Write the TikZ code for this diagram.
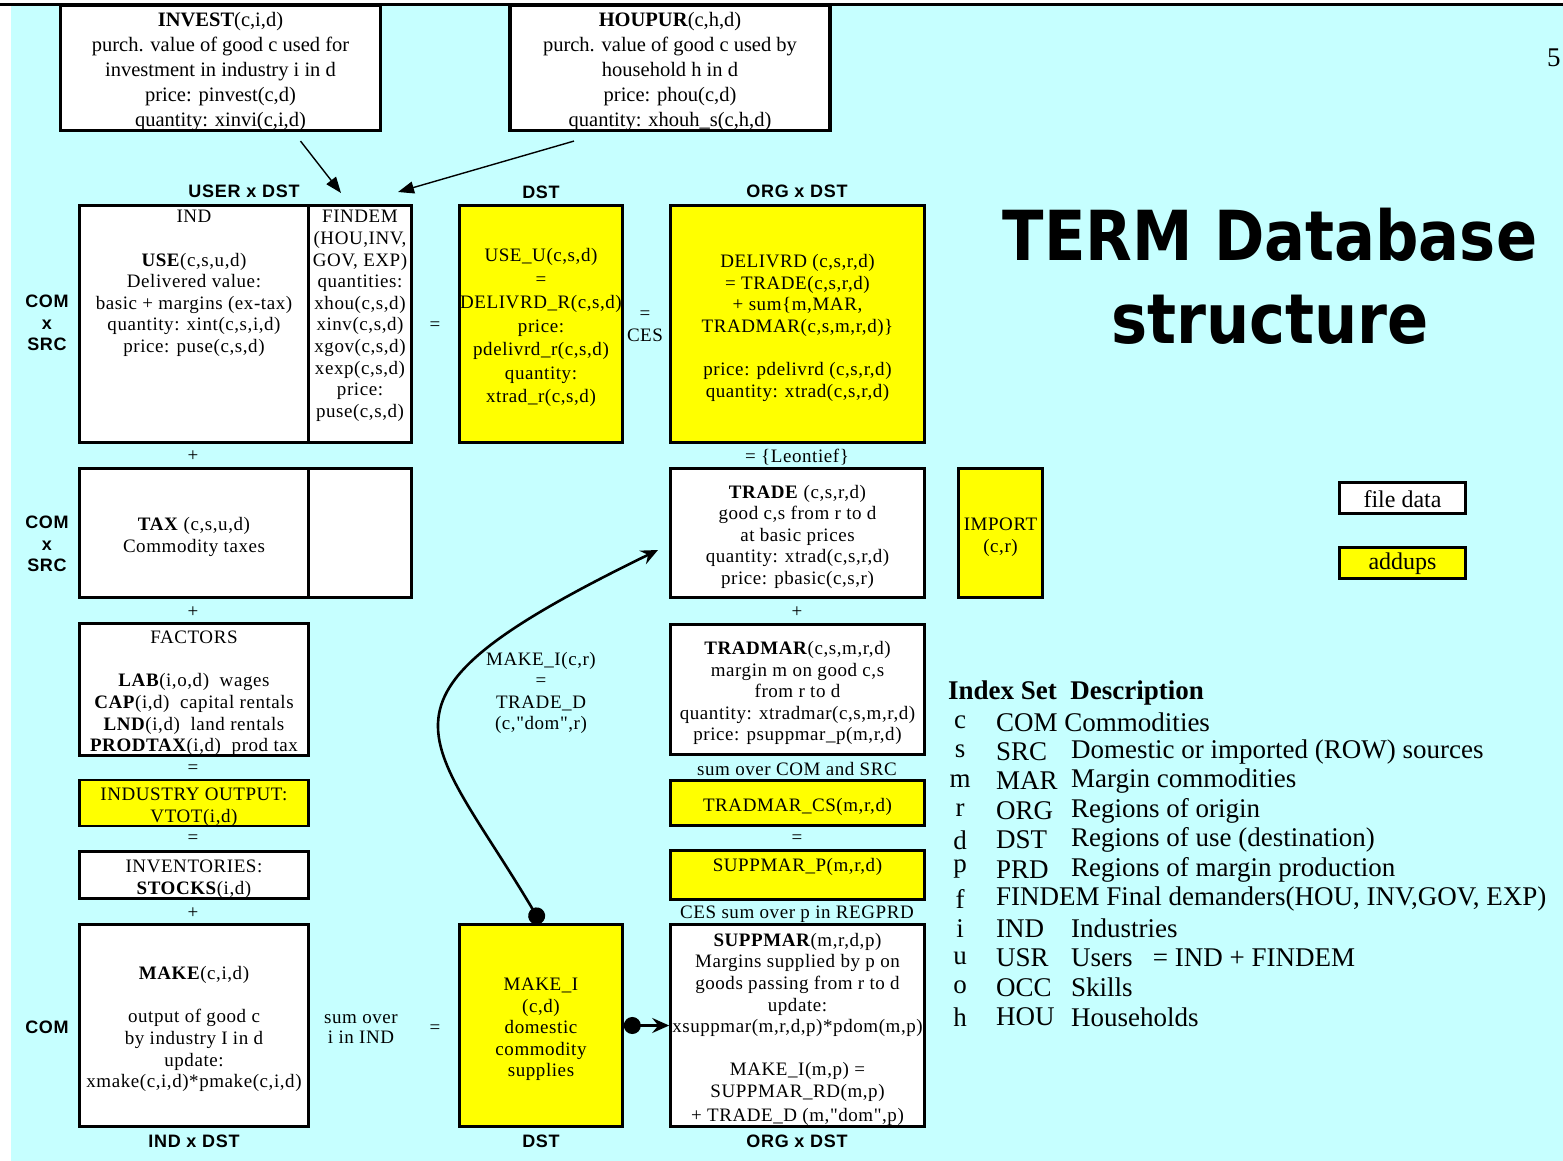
\documentclass[tikz,border=0pt]{standalone}
\usepackage{fontspec}
\setmainfont{Liberation Serif}
\newfontfamily\cellserif[LetterSpace=3]{Liberation Serif}
\newfontfamily\axissans[LetterSpace=4]{Liberation Sans}
\newfontfamily\headsans{DejaVu Sans}
\usepackage{graphicx}
\usepackage{tikz}
\usetikzlibrary{arrows.meta,positioning}
\definecolor{sky}{HTML}{C6FFFF}
\definecolor{addup}{HTML}{FFFF00}
\newcommand\boxstrut{\rule{0pt}{20.5pt}}

\begin{document}
\begin{tikzpicture}[x=1pt,y=-1pt,
    cellbox/.style={draw,line width=2.6pt,fill=white,inner sep=0pt,align=center,font=\cellserif\fontsize{19}{21.6}\selectfont},
    sumbox/.style={cellbox,fill=addup},
    topbox/.style={cellbox,line width=3.2pt,font=\fontsize{20.5}{25}\selectfont},
    celltext/.style={align=center,inner sep=0pt,font=\cellserif\fontsize{19}{21.6}\selectfont},
    axislabel/.style={align=center,inner sep=0pt,font=\axissans\bfseries\fontsize{18}{21.5}\selectfont},
    indexrow/.style={anchor=west,inner sep=0pt,font=\fontsize{27}{29.5}\selectfont},
    feedarrow/.style={line width=1.4pt,-{Triangle[length=16pt,width=12pt]}},
    linkarrow/.style={line width=2.6pt,{Circle[length=17pt]}-{Stealth[length=17pt,width=15pt,inset=6pt]}}]
  \useasboundingbox (0,0) rectangle (1563,1161);
  \fill[white] (0,0) rectangle (1563,1161);
  \fill[sky] (11,6) rectangle (1563,1161);
  \draw[line width=3pt] (0,5) -- (1563,5);
  \node[inner sep=0pt,anchor=west,font=\fontsize{27}{30}\selectfont] (page) at (1547,58) {5};

  % purchaser boxes on top
  \node[topbox,minimum width=320pt,minimum height=121pt] (invest) at (220.5,68) {\boxstrut\textbf{INVEST}(c,i,d)\\purch. value of good c used for\\investment in industry i in d\\price: pinvest(c,d)\\quantity: xinvi(c,i,d)};
  \node[topbox,minimum width=320pt,minimum height=121pt] (houpur) at (670,68) {\boxstrut\textbf{HOUPUR}(c,h,d)\\purch. value of good c used by\\household h in d\\price: phou(c,d)\\quantity: xhouh\_s(c,h,d)};
  \coordinate (usetip) at (341,193);
  \coordinate (fdtip) at (398,192);
  \draw[feedarrow] ([xshift=80pt,yshift=-9pt]invest.south) -- (usetip);
  \draw[feedarrow] ([xshift=-96pt,yshift=-9pt]houpur.south) -- (fdtip);

  % column headers
  \node[axislabel] (hduser) at (244,191) {USER x DST};
  \node[axislabel] (hddst) at (541,192) {DST};
  \node[axislabel] (hdorg) at (797,191) {ORG x DST};

  % first row
  \node[axislabel] (rowa) at (47,323) {COM\\x\\SRC};
  \node[cellbox,minimum width=229pt,minimum height=237pt] (use) at (194,324) {};
  \node[cellbox,minimum width=103pt,minimum height=237pt] (findem) at (360,324) {};
  \node[celltext,below=6pt of use.north] (usetext) {IND\\[21.6pt]\textbf{USE}(c,s,u,d)\\Delivered value:\\basic + margins (ex-tax)\\quantity: xint(c,s,i,d)\\price: puse(c,s,d)};
  \node[celltext,below=6pt of findem.north] (findemtext) {FINDEM\\(HOU,INV,\\GOV, EXP)\\quantities:\\xhou(c,s,d)\\xinv(c,s,d)\\xgov(c,s,d)\\xexp(c,s,d)\\price:\\puse(c,s,d)};
  \node[celltext] (eqa) at (435,326) {=};
  \node[sumbox,minimum width=163pt,minimum height=237pt,font=\cellserif\fontsize{19}{23.5}\selectfont] (useu) at (541,324) {\boxstrut USE\_U(c,s,d)\\=\\DELIVRD\_R(c,s,d)\\price:\\pdelivrd\_r(c,s,d)\\quantity:\\xtrad\_r(c,s,d)};
  \node[celltext] (ces) at (645,326) {=\\CES};
  \node[sumbox,minimum width=254pt,minimum height=237pt] (delivrd) at (797.5,324) {\boxstrut DELIVRD (c,s,r,d)\\= TRADE(c,s,r,d)\\+ sum\{m,MAR,\\TRADMAR(c,s,m,r,d)\}\\[21.6pt]price: pdelivrd (c,s,r,d)\\quantity: xtrad(c,s,r,d)};
  \node[celltext] (plusa) at (193,456) {+};
  \node[celltext] (leontief) at (797,457) {= \{Leontief\}};

  % second row
  \node[axislabel] (rowb) at (47,544) {COM\\x\\SRC};
  \node[cellbox,minimum width=229pt,minimum height=129pt] (tax) at (194,533) {\boxstrut\textbf{TAX} (c,s,u,d)\\Commodity taxes};
  \node[cellbox,minimum width=103pt,minimum height=129pt] (taxfd) at (360,533) {};
  \node[cellbox,minimum width=254pt,minimum height=129pt] (trade) at (797.5,533) {\boxstrut\textbf{TRADE} (c,s,r,d)\\good c,s from r to d\\at basic prices\\quantity: xtrad(c,s,r,d)\\price: pbasic(c,s,r)};
  \node[sumbox,minimum width=84pt,minimum height=129pt] (import) at (1000.5,533) {\boxstrut IMPORT\\(c,r)};
  \node[celltext] (plusb) at (193,612) {+};
  \node[celltext] (plusc) at (797,612) {+};

  % third row
  \node[cellbox,minimum width=229pt,minimum height=130pt] (factors) at (194,689.5) {\boxstrut FACTORS\\[21.6pt]\textbf{LAB}(i,o,d)\ \ wages\\\textbf{CAP}(i,d)\ \ capital rentals\\\textbf{LND}(i,d)\ \ land rentals\\\textbf{PRODTAX}(i,d)\ \ prod tax};
  \node[cellbox,minimum width=254pt,minimum height=130pt] (tradmar) at (797.5,689.5) {\boxstrut\textbf{TRADMAR}(c,s,m,r,d)\\margin m on good c,s\\from r to d\\quantity: xtradmar(c,s,m,r,d)\\price: psuppmar\_p(m,r,d)};
  \node[celltext] (eqb) at (193,769) {=};
  \node[celltext] (sumcs) at (797,769) {sum over COM and SRC};
  \node[sumbox,minimum width=229pt,minimum height=45pt] (vtot) at (194,803) {\boxstrut INDUSTRY OUTPUT:\\VTOT(i,d)};
  \node[sumbox,minimum width=254pt,minimum height=45pt] (tradmarcs) at (797.5,803) {\boxstrut TRADMAR\_CS(m,r,d)};
  \node[celltext] (eqc) at (193,839) {=};
  \node[celltext] (eqd) at (797,839) {=};
  \node[cellbox,minimum width=229pt,minimum height=47pt] (stocks) at (194,875) {\boxstrut INVENTORIES:\\\textbf{STOCKS}(i,d)};
  \node[sumbox,minimum width=254pt,minimum height=47pt] (suppmarp) at (797.5,875) {\boxstrut SUPPMAR\_P(m,r,d)\\\strut};
  \node[celltext] (plusd) at (193,913) {+};
  \node[celltext] (cessum) at (797,914) {CES sum over p in REGPRD};

  % bottom row
  \node[axislabel] (rowc) at (47,1027) {COM};
  \node[cellbox,minimum width=229pt,minimum height=202pt] (make) at (194,1025.5) {\boxstrut\textbf{MAKE}(c,i,d)\\[21.6pt]output of good c\\by industry I in d\\update:\\xmake(c,i,d)*pmake(c,i,d)};
  \node[celltext,font=\cellserif\fontsize{19}{20}\selectfont] (sumind) at (361,1029) {sum over\\i in IND};
  \node[celltext] (eqe) at (435,1029) {=};
  \node[sumbox,minimum width=163pt,minimum height=202pt] (makei) at (541,1025.5) {\boxstrut MAKE\_I\\(c,d)\\domestic\\commodity\\supplies};
  \node[cellbox,minimum width=254pt,minimum height=202pt] (suppmar) at (797.5,1025.5) {\boxstrut\textbf{SUPPMAR}(m,r,d,p)\\Margins supplied by p on\\goods passing from r to d\\update:\\xsuppmar(m,r,d,p)*pdom(m,p)\\[21.6pt]MAKE\_I(m,p) =\\SUPPMAR\_RD(m,p)\\[2pt]+ TRADE\_D (m,"dom",p)};
  \node[axislabel] (ftind) at (194,1141) {IND x DST};
  \node[axislabel] (ftdst) at (541,1141) {DST};
  \node[axislabel] (ftorg) at (797,1141) {ORG x DST};

  % domestic supplies feed trade and margins
  \coordinate (tradetip) at (658,550);
  \draw[linkarrow] (makei.north) .. controls (425,728) and (350,700) .. (tradetip);
  \node[celltext] (makelbl) at (541,693) {MAKE\_I(c,r)\\=\\TRADE\_D\\(c,"dom",r)};
  \draw[linkarrow] (makei.east) -- (suppmar.west);

  % title and key
  \node[inner sep=0pt,align=center,font=\headsans\bfseries\fontsize{69}{83}\selectfont] (title) at (1270,276) {\scalebox{0.88}[1]{TERM Database}\\\scalebox{0.88}[1]{structure}};
  \node[cellbox,minimum width=126pt,minimum height=31pt,font=\fontsize{24}{26}\selectfont] (filedata) at (1402.5,498) {\rule{0pt}{19pt}file data};
  \node[sumbox,minimum width=126pt,minimum height=31pt,font=\fontsize{24}{26}\selectfont] (addups) at (1402.5,563) {\rule{0pt}{19pt}addups};

  % index sets
  \node[indexrow,font=\bfseries\fontsize{27}{29.5}\selectfont] (idxhead) at (948,693) {Index Set\ \ Description};
  \foreach \k/\code/\desc [count=\n from 0] in {c/COM Commodities/,s/SRC/Domestic or imported (ROW) sources,m/MAR/Margin commodities,r/ORG/Regions of origin,d/DST/Regions of use (destination),p/PRD/Regions of margin production,f/{FINDEM Final demanders(HOU, INV,GOV, EXP)}/,i/IND/Industries,u/USR/Users\ \ \ = IND + FINDEM,o/OCC/Skills,h/HOU/Households}{
    \node[indexrow,anchor=center] (key\n) at (960,722+29.5*\n) {\k};
    \node[indexrow] (code\n) at (996,722+29.5*\n) {\code};
    \node[indexrow] (desc\n) at (1071,722+29.5*\n) {\desc};
  }
\end{tikzpicture}
\end{document}
